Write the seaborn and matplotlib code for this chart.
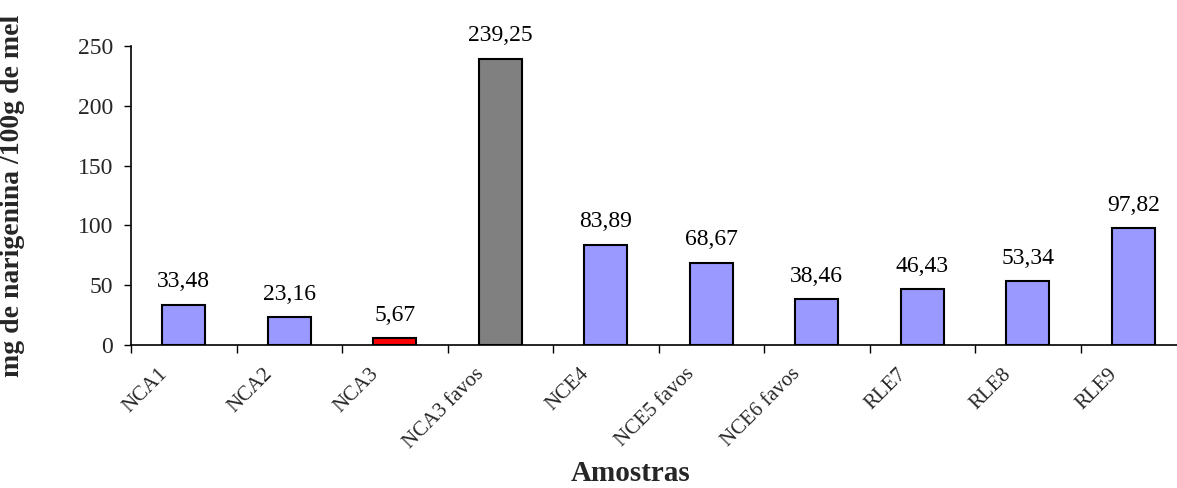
import matplotlib
matplotlib.use("Agg")
import matplotlib.pyplot as plt
import matplotlib.transforms as mtransforms
import seaborn as sns
import pandas as pd
import numpy as np

amostras = ["NCA1", "NCA2", "NCA3", "NCA3 favos", "NCE4", "NCE5 favos",
            "NCE6 favos", "RLE7", "RLE8", "RLE9"]
valores = [33.48, 23.16, 5.67, 239.25, 83.89, 68.67, 38.46, 46.43, 53.34, 97.82]
cores = ["#9999FF", "#9999FF", "#FF0000", "#808080", "#9999FF", "#9999FF",
         "#9999FF", "#9999FF", "#9999FF", "#9999FF"]
y_ticks = [0, 50, 100, 150, 200, 250]

sns.set_theme(style="white")
plt.rcParams["font.family"] = ["Liberation Serif", "DejaVu Serif"]

df = pd.DataFrame({"amostra": amostras, "valor": valores})

W, H = 1177, 488
fig = plt.figure(figsize=(W / 100, H / 100), dpi=100)
# plot area runs slightly past the right edge of the canvas
ax = fig.add_axes([131 / W, 1 - 345 / H, (1186 - 131) / W, (345 - 46) / H])

sns.barplot(data=df, x="amostra", y="valor", hue="amostra", palette=cores,
            legend=False, width=0.41, edgecolor="black", linewidth=1.5,
            saturation=1, ax=ax)

ax.set_ylim(0, 250)
ax.set_xlim(-0.5, len(amostras) - 0.5)
ax.set_yticks(y_ticks)
ax.set_yticklabels([str(t) for t in y_ticks], fontsize=17)

# value labels above the bars
for i, v in enumerate(valores):
    ax.annotate(f"{v:.2f}".replace(".", ","), (i, v), xytext=(0, 9),
                textcoords="offset points", ha="center", va="bottom",
                fontsize=17, color="black")

# category tick marks sit between bars; labels at bar centres
ax.set_xticks(np.arange(len(amostras)))
ax.set_xticklabels(amostras, fontsize=15, rotation=45, ha="right",
                   rotation_mode="anchor")
ax.set_xticks(np.arange(-0.5, len(amostras), 1.0), minor=True)
ax.tick_params(axis="x", which="major", length=0, pad=14)
ax.tick_params(axis="x", which="minor", length=6, width=1, color="black",
               direction="out", bottom=True)
ax.tick_params(axis="y", length=5, width=1, color="black", direction="out",
               left=True, pad=8)
shift = mtransforms.ScaledTranslation(-26 / 100, 0, fig.dpi_scale_trans)
for lab in ax.get_xticklabels():
    lab.set_transform(lab.get_transform() + shift)

for s in ["top", "right"]:
    ax.spines[s].set_visible(False)
for s in ["left", "bottom"]:
    ax.spines[s].set_color("black")
    ax.spines[s].set_linewidth(1.2)

ax.set_ylabel("mg de narigenina /100g de mel", fontsize=20, fontweight="bold")
ax.yaxis.set_label_coords(-0.101 * 1046 / 1055, 0.5)
ax.set_xlabel("")
fig.text(631 / W, 1 / H, "Amostras", ha="center", va="bottom",
         fontsize=21, fontweight="bold")

fig.savefig("out.png", dpi=100)
